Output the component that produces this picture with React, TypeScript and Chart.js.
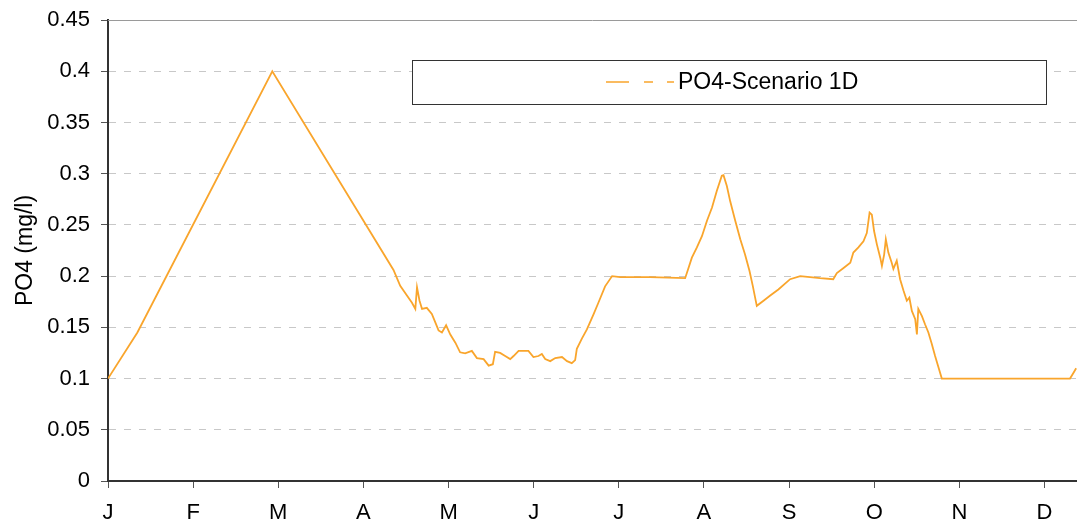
import React, { useEffect, useRef } from "react";
import { Chart, registerables } from "chart.js";

Chart.register(...registerables);

// Month tick labels (evenly spaced ticks, one per month)
const monthLabels = ["J", "F", "M", "A", "M", "J", "J", "A", "S", "O", "N", "D"];
const daysPerMonth = 365 / 12;
const xMax = 346.2;

const seriesLabel = "PO4-Scenario 1D";
const yTitle = "PO4 (mg/l)";
const yTicks = [0, 0.05, 0.1, 0.15, 0.2, 0.25, 0.3, 0.35, 0.4, 0.45];

// Day of year (x)
const days = [
  0, 10.5, 58.7, 102.0, 104.4, 106.8, 108.6, 109.8, 110.4, 111.3, 112.2, 113.9,
  115.7, 116.9, 118.1, 119.3, 120.8, 122.3, 124.1, 125.8, 127.6, 130.0, 131.8,
  134.2, 136.0, 137.5, 138.3, 140.1, 141.9, 143.7, 144.9, 146.7, 150.2, 152.0,
  153.8, 155.0, 156.2, 158.0, 159.8, 162.2, 164.0, 165.7, 166.9, 167.5, 169.3,
  171.1, 173.5, 175.2, 177.6, 180.1, 183.0, 193.7, 206.2, 207.4, 208.6, 210.4,
  212.2, 214.0, 215.8, 217.5, 219.3, 219.9, 221.1, 222.3, 224.1, 225.9, 227.6,
  229.2, 230.4, 231.2, 231.8, 234.2, 236.6, 239.5, 243.7, 247.3, 254.4, 259.1,
  260.4, 262.8, 265.2, 266.3, 268.1, 269.9, 271.1, 272.1, 272.9, 273.7, 274.7,
  275.9, 276.5, 277.3, 277.9, 278.8, 280.0, 280.6, 281.8, 283.0, 284.2, 285.4,
  286.3, 287.2, 288.4, 289.0, 289.5, 290.8, 291.9, 293.1, 294.3, 295.5, 296.7,
  297.9, 318.7, 343.7, 344.8, 345.9,
];

// PO4 concentration (mg/l)
const po4 = [
  0.1, 0.145, 0.4, 0.206, 0.1905, 0.181, 0.174, 0.168, 0.189, 0.176, 0.168, 0.169,
  0.163, 0.155, 0.147, 0.145, 0.152, 0.143, 0.135, 0.1256, 0.1246, 0.127, 0.12,
  0.119, 0.1126, 0.114, 0.126, 0.125, 0.122, 0.119, 0.122, 0.127, 0.127, 0.121,
  0.122, 0.124, 0.119, 0.117, 0.12, 0.121, 0.117, 0.115, 0.118, 0.129, 0.139,
  0.148, 0.163, 0.174, 0.19, 0.2, 0.199, 0.199, 0.198, 0.208, 0.218, 0.228,
  0.239, 0.254, 0.267, 0.283, 0.298, 0.2985, 0.288, 0.273, 0.254, 0.236, 0.221,
  0.205, 0.19, 0.179, 0.171, 0.176, 0.181, 0.187, 0.197, 0.2, 0.198, 0.197,
  0.203, 0.208, 0.213, 0.223, 0.228, 0.234, 0.242, 0.262, 0.26, 0.244, 0.231,
  0.218, 0.21, 0.221, 0.236, 0.223, 0.213, 0.207, 0.215, 0.197, 0.186, 0.176,
  0.179, 0.166, 0.158, 0.143, 0.168, 0.161, 0.153, 0.145, 0.134, 0.122, 0.111,
  0.1, 0.1, 0.1, 0.105, 0.11,
];

const lineColor = "#F9A52C";
const FONT = "'Liberation Sans', Arial, sans-serif";

const legendPlugin = {
  id: "boxLegend",
  afterDraw(chart: any) {
    const ctx = chart.ctx;
    const area = chart.chartArea;
    ctx.save();
    // solid top border of the plot area
    ctx.strokeStyle = "#9a9a9a";
    ctx.lineWidth = 1;
    ctx.beginPath();
    ctx.moveTo(area.left, Math.round(area.top) + 0.5);
    ctx.lineTo(area.right, Math.round(area.top) + 0.5);
    ctx.stroke();

    // legend box
    const bx = 412.5, by = 60.5, bw = 634, bh = 44;
    ctx.fillStyle = "#ffffff";
    ctx.fillRect(bx, by, bw, bh);
    ctx.strokeStyle = "#333333";
    ctx.lineWidth = 1;
    ctx.strokeRect(bx, by, bw, bh);
    const cy = 82;
    ctx.strokeStyle = lineColor;
    ctx.lineWidth = 1.5;
    ctx.beginPath();
    ctx.moveTo(606, cy); ctx.lineTo(629, cy);
    ctx.moveTo(644, cy); ctx.lineTo(653, cy);
    ctx.moveTo(667, cy); ctx.lineTo(674, cy);
    ctx.stroke();
    ctx.fillStyle = "#000000";
    ctx.font = `23px ${FONT}`;
    ctx.textBaseline = "middle";
    ctx.textAlign = "left";
    ctx.fillText(seriesLabel, 678, cy + 1);
    ctx.restore();
  },
};

export default function App() {
  const ref = useRef<HTMLCanvasElement | null>(null);
  useEffect(() => {
    if (!ref.current) return;
    const points = days.map((d, i) => ({ x: d, y: po4[i] }));
    const chart = new Chart(ref.current, {
      type: "line",
      data: {
        datasets: [
          {
            label: seriesLabel,
            data: points,
            borderColor: lineColor,
            backgroundColor: lineColor,
            borderWidth: 1.8,
            pointRadius: 0,
            tension: 0,
          },
        ],
      },
      options: {
        animation: false,
        responsive: false,
        devicePixelRatio: 1,
        layout: { padding: { top: 20, right: 0, bottom: 0, left: 0 } },
        plugins: { legend: { display: false }, tooltip: { enabled: false } },
        scales: {
          x: {
            type: "linear",
            min: 0,
            max: xMax,
            afterBuildTicks: (scale: any) => {
              scale.ticks = monthLabels.map((_, i) => ({ value: i * daysPerMonth }));
            },
            afterFit: (scale: any) => {
              scale.height = 48;
              scale.paddingRight = 0;
            },
            ticks: {
              autoSkip: false,
              maxRotation: 0,
              color: "#000",
              padding: 12,
              font: { size: 22, family: FONT },
              callback: (_v: any, i: number) => monthLabels[i],
            },
            grid: {
              drawOnChartArea: false,
              drawTicks: true,
              tickLength: 7,
              tickColor: "#555",
              tickWidth: 1,
            },
            border: { display: true, color: "#333", width: 2 },
          },
          y: {
            type: "linear",
            min: 0,
            max: 0.45,
            afterBuildTicks: (scale: any) => {
              scale.ticks = yTicks.map((v) => ({ value: v }));
            },
            afterFit: (scale: any) => {
              scale.width = 108;
              scale.paddingTop = 0;
              scale.paddingBottom = 0;
            },
            ticks: {
              color: "#000",
              padding: 11,
              font: { size: 22, family: FONT },
              callback: (v: any) => String(Number(Number(v).toFixed(2))),
            },
            grid: {
              drawTicks: true,
              tickLength: 7,
              tickColor: "#555",
              tickWidth: 1,
              tickBorderDash: [],
              lineWidth: 1,
              color: (c: any) =>
                c.tick && (c.tick.value === 0 || c.tick.value >= 0.449)
                  ? "rgba(0,0,0,0)"
                  : "#c8c8c8",
            },
            border: { display: true, color: "#333", width: 2, dash: [7, 8] },
            title: {
              display: true,
              text: yTitle,
              color: "#000",
              font: { size: 23, family: FONT },
              padding: { top: 12, bottom: 0 },
            },
          },
        },
      },
      plugins: [legendPlugin],
    });
    return () => chart.destroy();
  }, []);
  return (
    <div style={{ position: "absolute", left: 0, top: 0, width: 1077, height: 529, background: "#fff" }}>
      <canvas ref={ref} width={1077} height={529} />
    </div>
  );
}
